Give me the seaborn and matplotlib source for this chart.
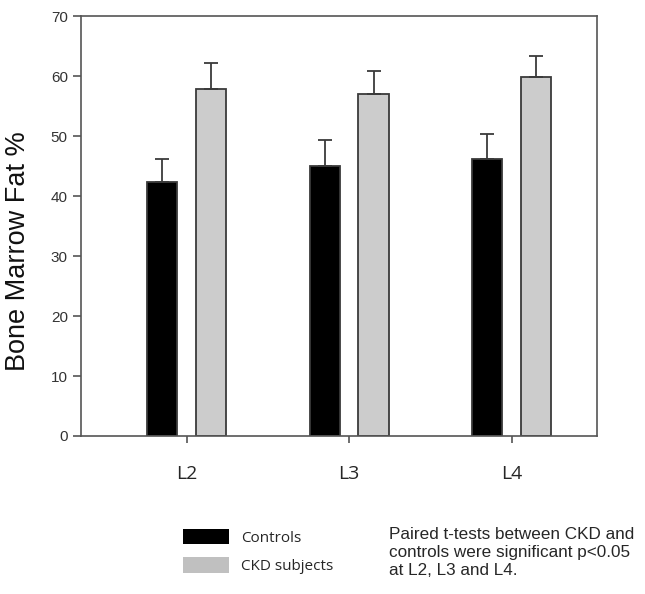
import numpy as np
import pandas as pd
import matplotlib
matplotlib.use("Agg")
import matplotlib.pyplot as plt
import seaborn as sns
from matplotlib.patches import Patch

# values
levels = ["L2", "L3", "L4"]
groups = ["Controls", "CKD subjects"]
controls_mean = [42.3, 45.0, 46.2]
controls_sd = [3.9, 4.4, 4.1]
ckd_mean = [57.8, 57.0, 59.8]
ckd_sd = [4.3, 3.9, 3.6]

df = pd.DataFrame({
    "level": levels * 2,
    "group": [groups[0]] * 3 + [groups[1]] * 3,
    "fat": controls_mean + ckd_mean,
    "err": controls_sd + ckd_sd,
})

sns.set_style("white")
plt.rcParams["font.family"] = ["Liberation Sans", "DejaVu Sans"]

fig = plt.figure(figsize=(6.45, 5.94), dpi=100)
ax = fig.add_axes([0.1256, 0.266, 0.80, 0.707])

colors = {"Controls": "#000000", "CKD subjects": "#cccccc"}
sns.barplot(data=df, x="level", y="fat", hue="group", order=levels,
            hue_order=groups, palette=colors, width=0.6, gap=0.38,
            edgecolor="#3a3a3a", linewidth=1.3, errorbar=None,
            legend=False, ax=ax)

# upward-only error bars at the centre of each bar
for bar, (_, row) in zip(ax.patches, df.iterrows()):
    cx = bar.get_x() + bar.get_width() / 2
    ax.errorbar(cx, row["fat"], yerr=[[0], [row["err"]]], fmt="none",
                ecolor="#3a3a3a", elinewidth=1.3, capsize=5, capthick=1.3)

ax.set_ylim(0, 70)
ax.set_xlim(-0.65, 2.525)
ax.set_yticks(np.arange(0, 71, 10))
ax.set_xlabel("")
ax.set_ylabel("Bone Marrow Fat %", fontsize=19.5, color="#111111")
ax.yaxis.set_label_coords(-0.097, 0.44)

for s in ax.spines.values():
    s.set_color("#555555")
    s.set_linewidth(1.2)

ax.tick_params(axis="y", direction="out", length=6, width=1.2,
               color="#555555", labelsize=11, labelcolor="#333333", left=True)
ax.tick_params(axis="x", direction="out", length=5, width=1.2,
               color="#555555", pad=16, bottom=True)
for lab in ax.get_xticklabels():
    lab.set_fontfamily(["Open Sans", "DejaVu Sans"])
    lab.set_fontsize(14)

handles = [Patch(facecolor="#000000", edgecolor="none"),
           Patch(facecolor="#c0c0c0", edgecolor="none")]
fig.legend(handles, groups, loc="upper left", bbox_to_anchor=(0.262, 0.133),
           frameon=False, handlelength=3.0, handleheight=1.2,
           labelspacing=0.75, handletextpad=0.8,
           prop={"family": ["Open Sans", "DejaVu Sans"], "size": 11})

fig.text(0.603, 0.112,
         "Paired t-tests between CKD and\ncontrols were significant p<0.05\nat L2, L3 and L4.",
         fontsize=12.3, va="top", ha="left", linespacing=1.25)

fig.savefig("out.png", dpi=100)
